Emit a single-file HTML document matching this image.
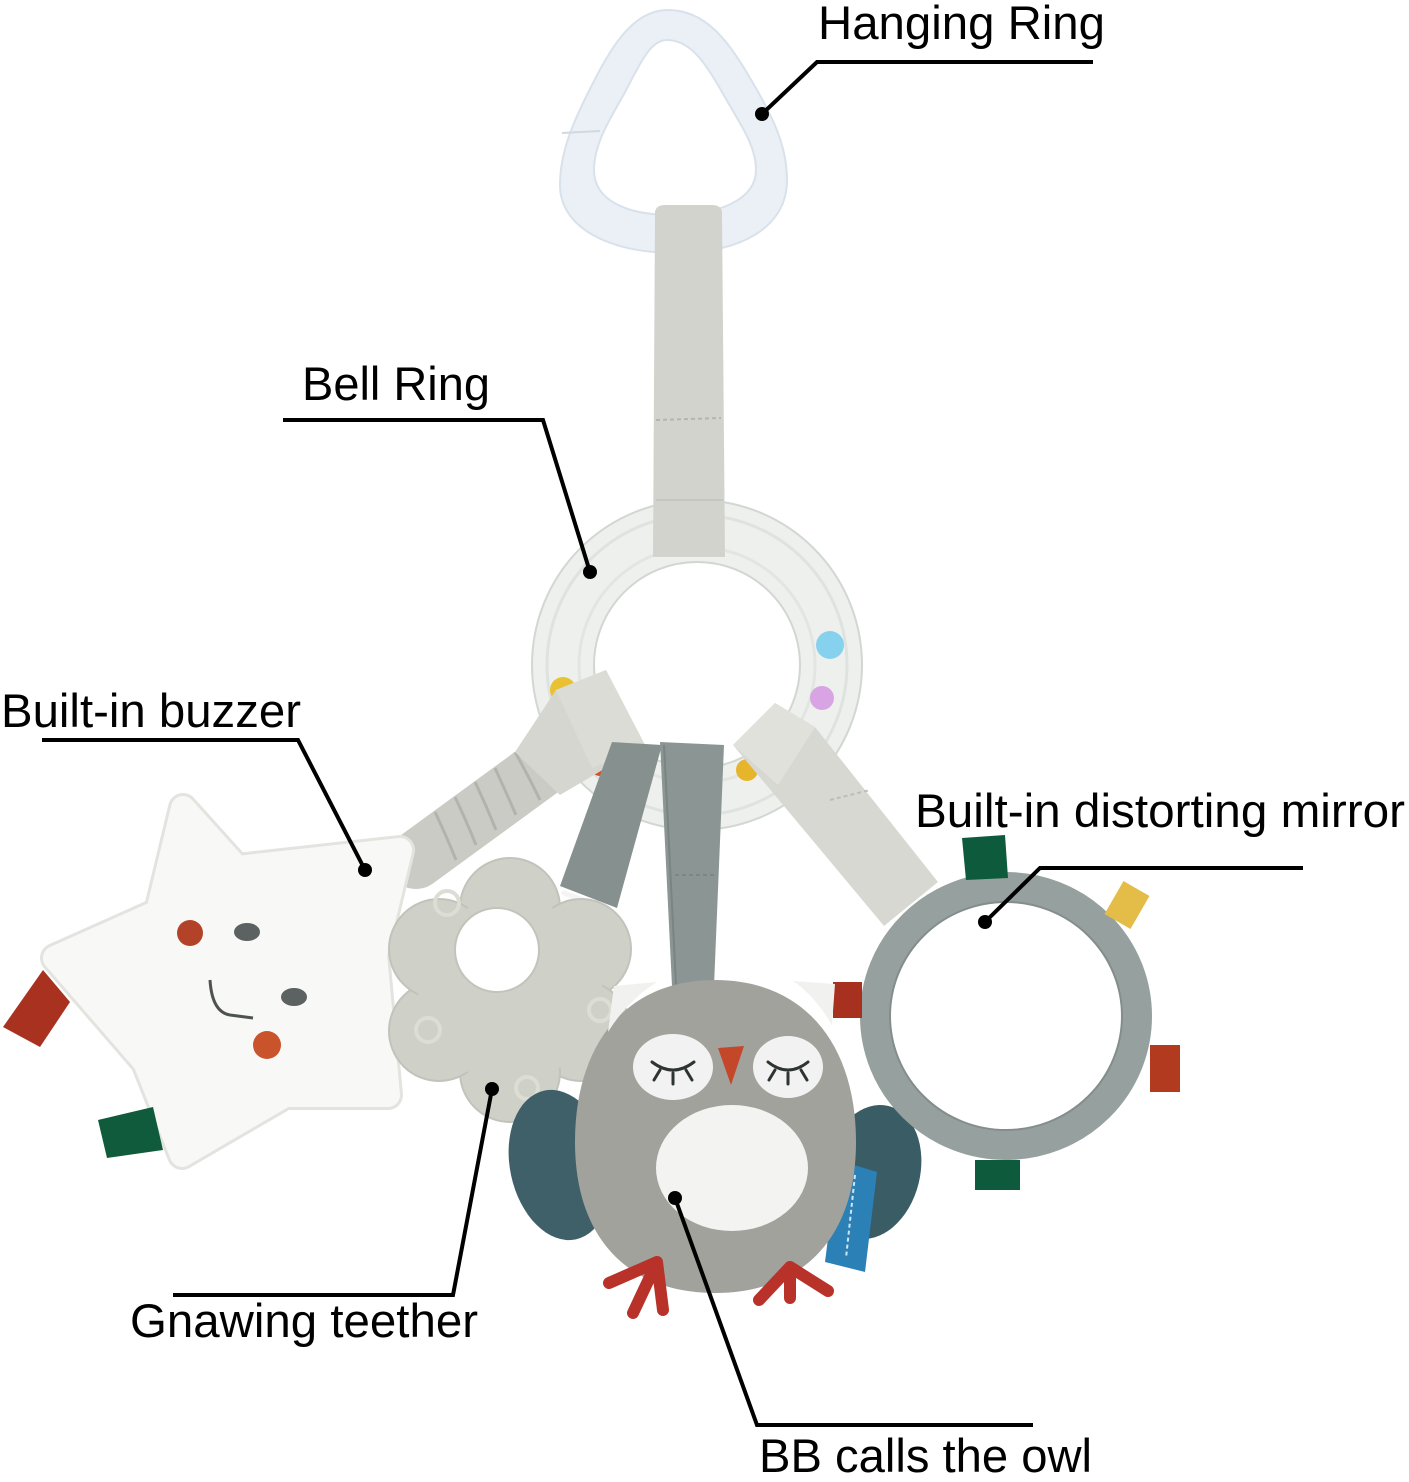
<!DOCTYPE html>
<html>
<head>
<meta charset="utf-8">
<style>
  html,body{margin:0;padding:0;background:#fff;}
  svg{display:block;}
  text{font-family:"Liberation Sans", Arial, sans-serif; font-size:47px; fill:#000;}
</style>
</head>
<body>
<svg width="1409" height="1482" viewBox="0 0 1409 1482" xmlns="http://www.w3.org/2000/svg">
  <rect x="0" y="0" width="1409" height="1482" fill="#ffffff"/>

  <!-- Hanging ring (teardrop) -->
  <path fill-rule="evenodd" fill="#eaf0f6" stroke="#d9e1ea" stroke-width="2"
    d="M668,10 C705,10 728,40 750,78 C772,115 787,145 787,180 C787,228 740,253 675,253 C610,253 560,228 560,185 C560,150 575,118 593,83 C613,43 635,10 668,10 Z
       M667,40 C690,40 705,62 722,92 C740,124 756,145 756,170 C756,200 718,215 672,215 C626,215 594,200 594,170 C594,145 608,122 624,94 C640,64 650,40 667,40 Z"/>
  <line x1="562" y1="133" x2="600" y2="131" stroke="#d0d8e0" stroke-width="2"/>

  <!-- Bell ring -->
  <circle cx="697" cy="665" r="134" fill="none" stroke="#edf0ed" stroke-width="62"/>
  <circle cx="697" cy="665" r="165" fill="none" stroke="#d2d7d2" stroke-width="2"/>
  <circle cx="697" cy="665" r="103" fill="none" stroke="#d2d7d2" stroke-width="2"/>
  <circle cx="697" cy="665" r="150" fill="none" stroke="#dfe3df" stroke-width="3"/>
  <circle cx="697" cy="665" r="118" fill="none" stroke="#e2e6e2" stroke-width="3"/>

  <!-- beads -->
  <circle cx="563" cy="690" r="13" fill="#e9c234"/>
  <circle cx="830" cy="645" r="14" fill="#86d2ee"/>
  <circle cx="822" cy="698" r="12" fill="#d9a4e3"/>
  <circle cx="600" cy="765" r="11" fill="#dc4e22"/>
  <circle cx="747" cy="770" r="11" fill="#e6b52c"/>

  <!-- top strap -->
  <path d="M655,212 Q656,205 665,205 L712,205 Q721,205 722,212 L725,557 L653,557 Z" fill="#d3d3ce"/>
  <line x1="656" y1="420" x2="721" y2="418" stroke="#b5b5b0" stroke-width="2" stroke-dasharray="4,3"/>
  <line x1="656" y1="500" x2="723" y2="500" stroke="#c7c7c2" stroke-width="2"/>

  <!-- right light strap -->
  <path d="M733,745 L775,703 L815,727 L938,882 L884,926 Z" fill="#d8d8d3"/>
  <path d="M733,745 L775,703 L815,727 L778,785 Z" fill="#e1e1dc"/>
  <line x1="830" y1="800" x2="870" y2="790" stroke="#bdbdb8" stroke-width="2" stroke-dasharray="4,3"/>

  <!-- left light strap + scrunchie -->
  <path d="M542,768 L416,860" stroke="#cbcbc6" stroke-width="58" stroke-linecap="round" fill="none"/>
  <path d="M515,752 Q528,775 540,800 M495,768 Q505,790 516,815 M475,782 Q486,805 496,830 M455,797 Q466,820 476,845 M435,812 Q446,835 456,860"
        stroke="#b3b3ae" stroke-width="3" fill="none"/>
  <path d="M556,690 L606,670 L645,745 L560,795 L515,752 Z" fill="#d6d6d1"/>
  <path d="M556,690 L606,670 L645,745 L592,768 Z" fill="#dcdcd7"/>

  <!-- dark strap -->
  <path d="M612,742 L662,745 L617,908 L560,886 Z" fill="#85908f"/>
  <path d="M564,893 L600,906" stroke="#f4f4f4" stroke-width="5" stroke-linecap="round"/>
  <path d="M660,742 L724,745 L714,986 L672,986 Z" fill="#8b9594"/>
  <line x1="664" y1="745" x2="676" y2="985" stroke="#7a8483" stroke-width="2"/>
  <line x1="675" y1="875" x2="716" y2="875" stroke="#7c8685" stroke-width="2" stroke-dasharray="4,3"/>

  <!-- Star -->
  <polygon points="183,808 237,868 400,850 375,955 388,1095 285,1095 182,1155 145,1062 55,958 158,912"
    fill="#e3e3df" stroke="#e3e3df" stroke-width="30" stroke-linejoin="round"/>
  <polygon points="183,808 237,868 400,850 375,955 388,1095 285,1095 182,1155 145,1062 55,958 158,912"
    fill="#f8f8f6" stroke="#f8f8f6" stroke-width="24" stroke-linejoin="round"/>
  <!-- star tabs -->
  <polygon points="3,1027 43,970 70,1002 40,1047" fill="#a8321f"/>
  <polygon points="98,1120 153,1107 163,1150 107,1158" fill="#0f5b3b"/>
  <!-- star face -->
  <circle cx="190" cy="933" r="13" fill="#b34328"/>
  <ellipse cx="247" cy="932" rx="13" ry="9" fill="#5b6261"/>
  <ellipse cx="294" cy="997" rx="13" ry="9" fill="#5b6261"/>
  <path d="M210,980 Q212,1012 230,1015 Q245,1017 253,1018" stroke="#4e5352" stroke-width="3" fill="none"/>
  <circle cx="267" cy="1045" r="14" fill="#c9532a"/>

  <!-- Teether -->
  <g fill="#cfd0c8" stroke="#c2c3bb" stroke-width="2">
    <circle cx="510" cy="908" r="50"/>
    <circle cx="581" cy="949" r="50"/>
    <circle cx="581" cy="1031" r="50"/>
    <circle cx="510" cy="1072" r="50"/>
    <circle cx="439" cy="1031" r="50"/>
    <circle cx="439" cy="949" r="50"/>
  </g>
  <circle cx="510" cy="990" r="92" fill="#cfd0c8"/>
  <circle cx="497" cy="950" r="42" fill="#ffffff" stroke="#c2c3bb" stroke-width="2"/>
  <g fill="none" stroke="#dcddd5" stroke-width="4">
    <circle cx="447" cy="903" r="12"/>
    <circle cx="428" cy="1030" r="12"/>
    <circle cx="527" cy="1088" r="11"/>
    <circle cx="600" cy="1010" r="11"/>
  </g>

  <!-- Owl wings -->
  <ellipse cx="560" cy="1165" rx="50" ry="76" transform="rotate(-12 560 1165)" fill="#3f6068"/>
  <ellipse cx="872" cy="1172" rx="48" ry="68" transform="rotate(14 872 1172)" fill="#3a5c64"/>

  <!-- Mirror -->
  <ellipse cx="1006" cy="1016" rx="131" ry="129" fill="#ffffff" stroke="#96a09e" stroke-width="30"/>
  <ellipse cx="1006" cy="1016" rx="116" ry="114" fill="none" stroke="#838d8b" stroke-width="2"/>
  <polygon points="962,838 1005,835 1008,878 966,880" fill="#0e5a3c"/>
  <rect x="1112" y="886" width="30" height="38" transform="rotate(30 1127 905)" fill="#e4bd48"/>
  <rect x="833" y="982" width="29" height="36" fill="#a8301e"/>
  <rect x="1150" y="1045" width="30" height="47" fill="#b23a1e"/>
  <rect x="975" y="1160" width="45" height="30" fill="#0e5a3c"/>

  <!-- Owl -->
  <polygon points="838,1160 877,1172 865,1272 825,1262" fill="#2b80b5"/>
  <line x1="855" y1="1175" x2="846" y2="1258" stroke="#cfe6f5" stroke-width="2" stroke-dasharray="4,3"/>
  <path d="M715,980 C805,980 856,1045 856,1142 C856,1240 800,1293 715,1293 C630,1293 575,1240 575,1142 C575,1045 625,980 715,980 Z" fill="#a2a29d"/>
  <path d="M608,1032 L614,986 L657,982 Q628,1000 608,1032 Z" fill="#f1f1ef"/>
  <path d="M793,981 L835,984 L832,1025 Q815,996 793,981 Z" fill="#f1f1ef"/>
  <ellipse cx="732" cy="1168" rx="76" ry="63" fill="#f3f3f1"/>
  <ellipse cx="673" cy="1067" rx="40" ry="33" fill="#f2f2f2"/>
  <ellipse cx="788" cy="1067" rx="35" ry="31" fill="#f2f2f2"/>
  <g stroke="#2e3333" stroke-width="3" fill="none" stroke-linecap="round">
    <path d="M652,1062 Q673,1078 694,1062"/>
    <path d="M660,1070 L654,1080 M673,1073 L673,1084 M686,1070 L692,1080"/>
    <path d="M768,1062 Q788,1078 808,1062"/>
    <path d="M775,1070 L769,1080 M788,1073 L788,1084 M801,1070 L807,1080"/>
  </g>
  <polygon points="718,1048 744,1046 731,1085" fill="#c4472a"/>
  <!-- feet -->
  <g stroke="#b8322a" stroke-width="12" stroke-linecap="round" fill="none">
    <path d="M657,1262 L609,1283 M657,1262 L633,1313 M657,1262 L663,1310"/>
    <path d="M790,1267 L759,1300 M790,1267 L790,1298 M790,1267 L828,1291"/>
  </g>

  <!-- Leader lines -->
  <g stroke="#000" stroke-width="4" fill="none" stroke-linejoin="miter">
    <polyline points="1093,62 817,62 762,114"/>
    <polyline points="283,420 543,420 590,572"/>
    <polyline points="42,740 298,740 365,870"/>
    <polyline points="1303,868 1040,868 985,922"/>
    <polyline points="173,1295 453,1295 492,1089"/>
    <polyline points="1033,1425 757,1425 675,1198"/>
  </g>
  <g fill="#000">
    <circle cx="762" cy="114" r="7"/>
    <circle cx="590" cy="572" r="7"/>
    <circle cx="365" cy="870" r="7"/>
    <circle cx="985" cy="922" r="7"/>
    <circle cx="492" cy="1089" r="7"/>
    <circle cx="675" cy="1198" r="7"/>
  </g>

  <!-- Labels -->
  <text x="818" y="39" textLength="287" lengthAdjust="spacingAndGlyphs">Hanging Ring</text>
  <text x="302" y="400" textLength="188" lengthAdjust="spacingAndGlyphs">Bell Ring</text>
  <text x="1" y="727" textLength="300" lengthAdjust="spacingAndGlyphs">Built-in buzzer</text>
  <text x="915" y="827" textLength="490" lengthAdjust="spacingAndGlyphs">Built-in distorting mirror</text>
  <text x="130" y="1337" textLength="348" lengthAdjust="spacingAndGlyphs">Gnawing teether</text>
  <text x="759" y="1472" textLength="333" lengthAdjust="spacingAndGlyphs">BB calls the owl</text>
</svg>
</body>
</html>
